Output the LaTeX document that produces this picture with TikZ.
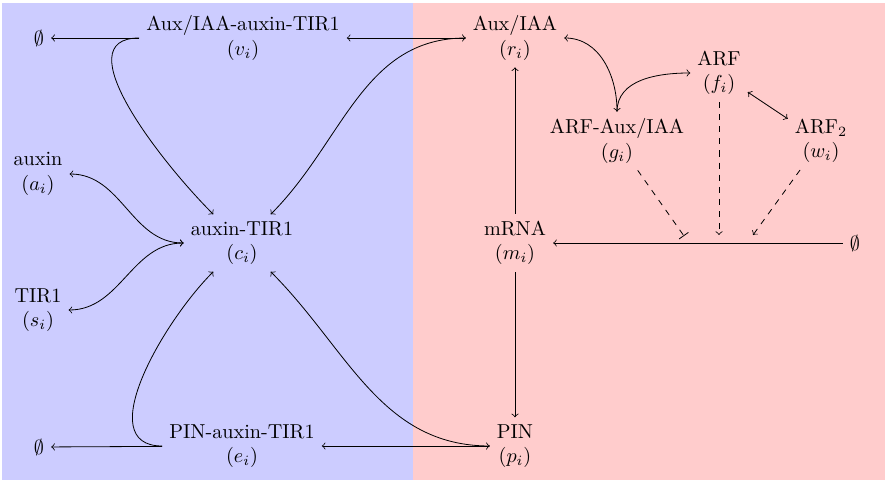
\documentclass[tikz,border=0pt]{standalone}
\begin{document}
\begin{tikzpicture}[x=0.495pt,y=0.495pt,
  sp/.style={align=center},
  inh/.style={dashed,-|},
  act/.style={dashed,->}]
\useasboundingbox (0,0) rectangle (885,480);
\fill[blue!20] (2,0) rectangle (413,477);
\fill[red!20] (413,0) rectangle (885,477);
% nodes
\node[sp] (e1) at (39,442) {$\emptyset$};
\node[sp] (v) at (243,442) {Aux/IAA-auxin-TIR1\\$(v_i)$};
\node[sp] (r) at (515,442) {Aux/IAA\\$(r_i)$};
\node[sp] (f) at (719,407) {ARF\\$(f_i)$};
\node[sp] (g) at (617,339) {ARF-Aux/IAA\\$(g_i)$};
\node[sp] (w) at (821,339) {ARF$_2$\\$(w_i)$};
\node[sp] (a) at (38,306) {auxin\\$(a_i)$};
\node[sp] (c) at (242,237) {auxin-TIR1\\$(c_i)$};
\node[sp] (m) at (515,237) {mRNA\\$(m_i)$};
\node[sp] (e3) at (855,237) {$\emptyset$};
\node[sp] (s) at (38,170) {TIR1\\$(s_i)$};
\node[sp] (e2) at (39,33) {$\emptyset$};
\node[sp] (e) at (242,34) {PIN-auxin-TIR1\\$(e_i)$};
\node[sp] (p) at (515,34) {PIN\\$(p_i)$};
\coordinate (tg) at (684,244);
\coordinate (tf) at (719,245);
\coordinate (tw) at (753,245);
% connectors, left
\draw[->] (v) -- (e1);
\draw[->] (v) to[out=180,in=135] (c);
\draw[<->] (v) -- (r);
\draw[->] (r) to[out=180,in=45] (c);
\draw[<->] (a) to[out=0,in=180] (c);
\draw[<->] (s) to[out=0,in=180] (c);
\draw[->] (e) -- (e2);
\draw[->] (e) to[out=180,in=-135] (c);
\draw[<->] (e) -- (p);
\draw[->] (p) to[out=180,in=-45] (c);
% connectors, right
\draw[->] (m) -- (r);
\draw[->] (m) -- (p);
\draw[->] (e3) -- (m);
\draw[<->] (r) to[out=0,in=90] (g);
\draw[->] (g) to[out=90,in=180] (f);
\draw[<->] (f) -- (w);
\draw[inh] (g) -- (tg);
\draw[act] (f) -- (tf);
\draw[act] (w) -- (tw);
\end{tikzpicture}
\end{document}
